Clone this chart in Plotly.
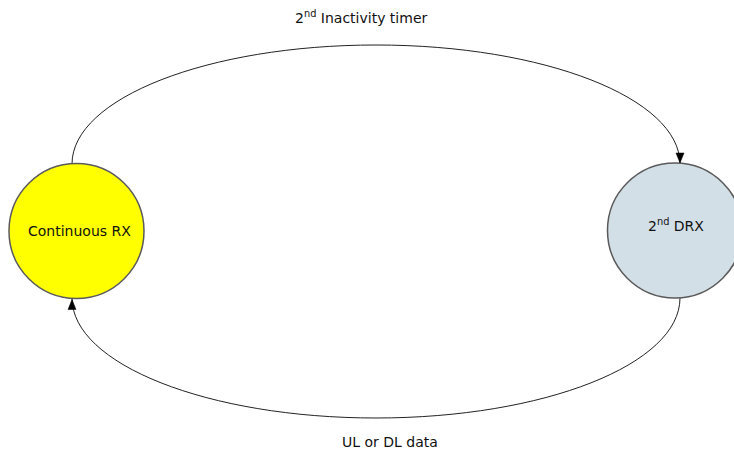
import plotly.graph_objects as go

# Diagram content
node_labels = ["Continuous RX", "2<sup>nd</sup> DRX"]
edge_labels = ["2<sup>nd</sup> Inactivity timer", "UL or DL data"]

# Layout geometry (pixel coordinates)
W, H = 734, 450
nodes = [
    dict(cx=76.5, cy=231, r=67.5, fill="#FFFF00"),
    dict(cx=675, cy=230.5, r=67.5, fill="#D3DFE7"),
]
K = 0.5523

def half_ellipse(x0, x1, cy, ry, up=True):
    cx = (x0 + x1) / 2
    rx = (x1 - x0) / 2
    ye = cy - ry if up else cy + ry
    s = -1 if up else 1
    return (f"M {x0},{cy} C {x0},{cy + s*K*ry} {cx - K*rx},{ye} {cx},{ye} "
            f"C {cx + K*rx},{ye} {x1},{cy + s*K*ry} {x1},{cy}")

fig = go.Figure()
fig.add_trace(go.Scatter(x=[0, W], y=[0, H], mode="markers",
                         marker=dict(opacity=0, size=1), hoverinfo="skip", showlegend=False))

shapes = []
line_col = "#222222"
shapes.append(dict(type="path", path=half_ellipse(72, 680, 164, 119, up=True),
                   line=dict(color=line_col, width=1)))
shapes.append(dict(type="path", path=half_ellipse(72, 680, 298, 120, up=False),
                   line=dict(color=line_col, width=1)))
for n in nodes:
    shapes.append(dict(type="circle", x0=n["cx"] - n["r"], x1=n["cx"] + n["r"],
                       y0=n["cy"] - n["r"], y1=n["cy"] + n["r"],
                       fillcolor=n["fill"], line=dict(color="#5a5a5a", width=1.5)))
shapes.append(dict(type="path", path="M 680,163 L 676,153 L 684,153 Z",
                   fillcolor="#000000", line=dict(color="#000000", width=0.5)))
shapes.append(dict(type="path", path="M 72,299.5 L 68,309.5 L 76,309.5 Z",
                   fillcolor="#000000", line=dict(color="#000000", width=0.5)))

font = dict(family="DejaVu Sans", size=14, color="#111111")
annotations = [
    dict(x=79, y=231, text=node_labels[0]),
    dict(x=676, y=225, text=node_labels[1]),
    dict(x=361, y=17, text=edge_labels[0]),
    dict(x=390, y=442, text=edge_labels[1]),
]
for a in annotations:
    a.update(xref="x", yref="y", showarrow=False, font=font,
             xanchor="center", yanchor="middle")

fig.update_layout(
    width=W, height=H, margin=dict(l=0, r=0, t=0, b=0),
    paper_bgcolor="white", plot_bgcolor="white",
    xaxis=dict(range=[0, W], visible=False, fixedrange=True),
    yaxis=dict(range=[H, 0], visible=False, fixedrange=True),
    shapes=shapes, annotations=annotations, showlegend=False,
)
fig.write_html("out.html", config={"displayModeBar": False},
               post_script="document.body.style.margin='0';document.body.style.padding='0';document.body.style.overflow='hidden';")
